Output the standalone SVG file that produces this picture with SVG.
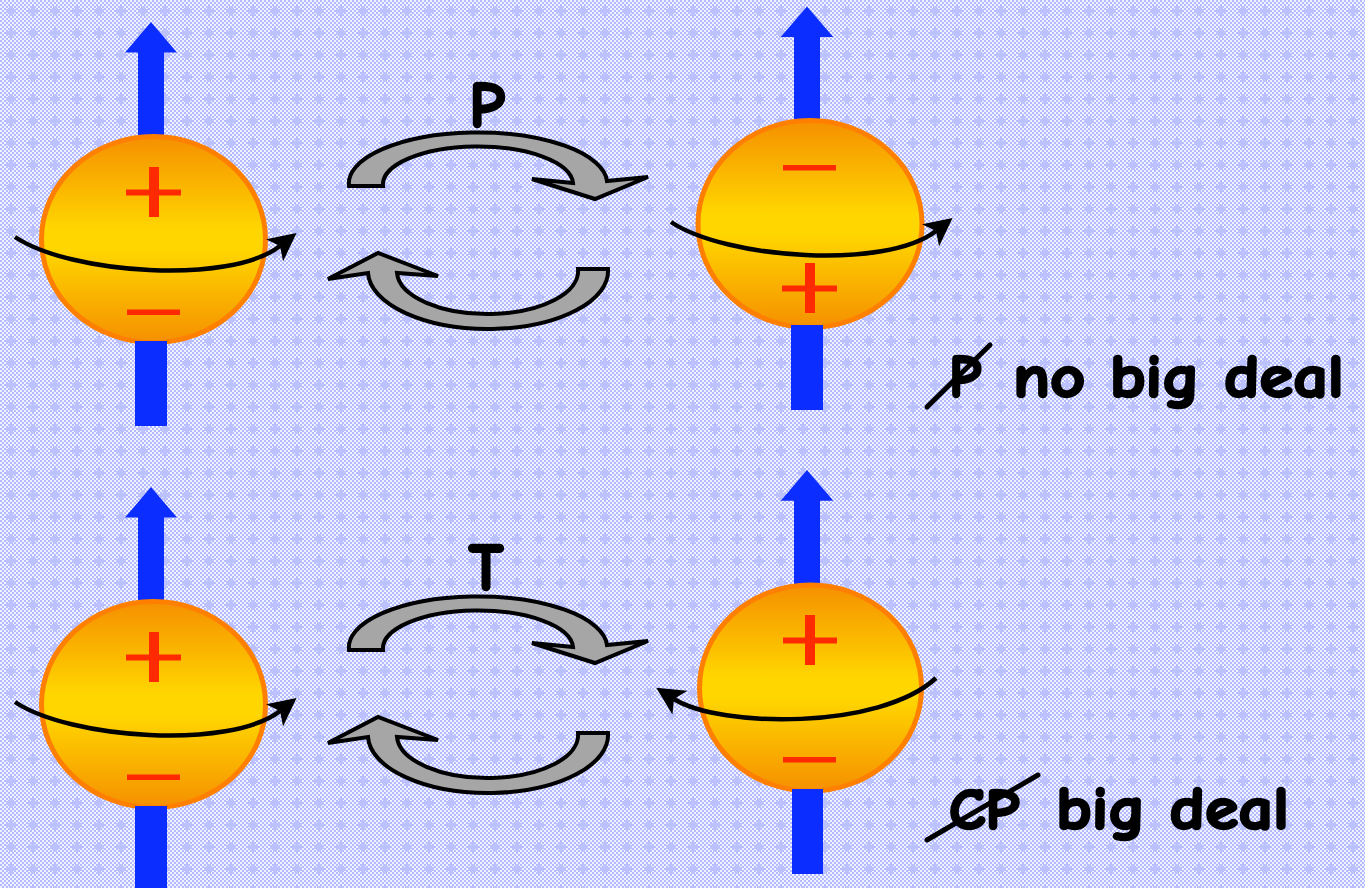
<svg xmlns="http://www.w3.org/2000/svg" width="1365" height="888" viewBox="0 0 1365 888">
  <defs>
    <!-- fine checker ground -->
    <pattern id="chk" width="4" height="4" patternUnits="userSpaceOnUse">
      <rect width="4" height="4" fill="#f0f2ff"/>
      <path d="M0 0h2v2H0zM2 2h2v2H2z" fill="#b3baff"/>
    </pattern>
    <!-- small crosses scattered over the checker -->
    <pattern id="crosses" width="22" height="22" patternUnits="userSpaceOnUse">
      <path d="M9 6h4v3h3v4h-3v3h-4v-3H6V9h3z" fill="#bcc2ff"/>
    </pattern>
    <linearGradient id="ball" x1="0" y1="0" x2="0" y2="1">
      <stop offset="0" stop-color="#f59000"/>
      <stop offset="0.45" stop-color="#ffd600"/>
      <stop offset="0.55" stop-color="#ffd600"/>
      <stop offset="1" stop-color="#f59000"/>
    </linearGradient>
    <marker id="spinHead" viewBox="0 0 28 28" refX="7" refY="14" markerWidth="28" markerHeight="28" markerUnits="userSpaceOnUse" orient="auto">
      <path d="M0 0L28 14L0 28L7 14Z" fill="#000"/>
    </marker>
    <style>
      .ball { fill: url(#ball); stroke: #ff8000; stroke-width: 5; }
      .spinAxis { fill: #0c2dff; }
      .charge { fill: #ff2a00; }
      .spin { fill: none; stroke: #000; stroke-width: 4.5; marker-end: url(#spinHead); }
      .flip { fill: #a6a6a6; stroke: #000; stroke-width: 4; stroke-linejoin: miter; }
      .lbl { font-family: "Comic Sans MS", "Comic Neue", "DejaVu Sans", sans-serif; font-weight: bold; fill: #000; stroke: #000; stroke-width: 2.5; stroke-linejoin: round; }
      .strike { stroke: #000; stroke-width: 5; stroke-linecap: round; }
    </style>
  </defs>

  <rect width="1365" height="888" fill="url(#chk)"/>
  <rect width="1365" height="888" fill="url(#crosses)"/>

  <!-- particle, upper left -->
  <g id="particle-a">
    <path class="spinAxis" d="M151 22L177 52.5H164V139H138V52.5H125Z"/>
    <ellipse class="ball" cx="153.5" cy="239.5" rx="112" ry="103"/>
    <rect class="spinAxis" x="135" y="341" width="32" height="85"/>
    <rect class="charge" x="149" y="167" width="10" height="50"/>
    <rect class="charge" x="126" y="189.5" width="55" height="6"/>
    <rect class="charge" x="127" y="309.5" width="53" height="5.5"/>
    <path class="spin" d="M15 237C70 274 230 285 280 246"/>
  </g>

  <!-- particle, upper right (parity image) -->
  <g id="particle-b">
    <path class="spinAxis" d="M807 6.5L833.3 37H820V123H794V37H780.7Z"/>
    <ellipse class="ball" cx="810" cy="224" rx="112" ry="103.5"/>
    <rect class="spinAxis" x="791" y="325" width="32" height="85"/>
    <rect class="charge" x="783" y="165" width="53" height="5.5"/>
    <rect class="charge" x="805" y="263" width="10" height="50"/>
    <rect class="charge" x="782" y="285.5" width="55" height="6"/>
    <path class="spin" d="M671 222C726 259 886 270 936 231"/>
  </g>

  <!-- particle, lower left -->
  <g id="particle-c">
    <path class="spinAxis" d="M151 487L177 517.5H164V604H138V517.5H125Z"/>
    <ellipse class="ball" cx="153.5" cy="704.5" rx="112" ry="103"/>
    <rect class="spinAxis" x="135" y="806" width="32" height="85"/>
    <rect class="charge" x="149" y="632" width="10" height="50"/>
    <rect class="charge" x="126" y="654.5" width="55" height="6"/>
    <rect class="charge" x="127" y="774.5" width="53" height="5.5"/>
    <path class="spin" d="M15 702C70 739 230 750 280 711"/>
  </g>

  <!-- particle, lower right (time-reversed image) -->
  <g id="particle-d">
    <path class="spinAxis" d="M807 470L833.3 500.7H820V587H794V500.7H780.7Z"/>
    <ellipse class="ball" cx="810.5" cy="688" rx="111" ry="103"/>
    <rect class="spinAxis" x="792" y="789" width="31" height="85"/>
    <rect class="charge" x="805" y="615" width="10" height="50"/>
    <rect class="charge" x="783" y="637.5" width="54" height="6"/>
    <rect class="charge" x="783" y="757" width="53" height="5.5"/>
    <path class="spin" d="M936 678C880 730 720 728 674 699"/>
  </g>

  <!-- transformation arrows -->
  <g id="connectors">
    <g id="parity">
      <path class="flip" d="M349 186A129 51 0 0 1 607 181L648 177L595 199L532 179L573 183A95 38 0 0 0 383 186Z"/>
      <path class="flip" d="M608 269A120 58 0 0 1 368 273L328 279L378 253L438 276L397 273A90.5 43 0 0 0 578 269Z"/>
    </g>
    <g id="time-reversal">
      <path class="flip" d="M349 650A129 51 0 0 1 607 645L648 641L595 663L532 643L573 647A95 38 0 0 0 383 650Z"/>
      <path class="flip" d="M608 733A120 58 0 0 1 368 737L328 743L378 717L438 740L397 737A90.5 43 0 0 0 578 733Z"/>
    </g>
  </g>

  <g id="label-p">
    <text class="lbl" x="487" y="127" font-size="64" text-anchor="middle">P</text>
  </g>
  <g id="label-t">
    <text class="lbl" x="486" y="590" font-size="66" text-anchor="middle">T</text>
  </g>

  <g id="note-p">
    <text class="lbl" x="949" y="397" font-size="60" textLength="32" lengthAdjust="spacingAndGlyphs">P</text>
    <line class="strike" x1="927" y1="407" x2="990" y2="345"/>
    <text class="lbl" x="1013" y="397" font-size="60" textLength="331" lengthAdjust="spacingAndGlyphs">no big deal</text>
  </g>

  <g id="note-cp">
    <text class="lbl" x="949" y="829" font-size="58" textLength="70" lengthAdjust="spacingAndGlyphs">CP</text>
    <line class="strike" x1="927" y1="840" x2="1038" y2="775"/>
    <text class="lbl" x="1056" y="829" font-size="60" textLength="233" lengthAdjust="spacingAndGlyphs">big deal</text>
  </g>
</svg>
